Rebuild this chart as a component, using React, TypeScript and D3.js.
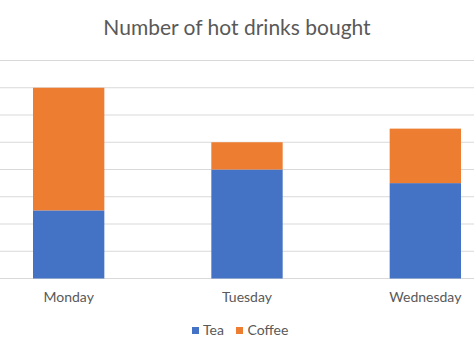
import React from "react";
import * as d3 from "d3";

const days = ["Monday", "Tuesday", "Wednesday"];
const tea = [5, 8, 7];
const coffee = [9, 2, 4];
const seriesNames = ["Tea", "Coffee"];
const seriesColors = ["#4472C4", "#ED7D31"];
const yTicks = [0, 2, 4, 6, 8, 10, 12, 14, 16];

const W = 474;
const H = 355;
const FONT = "Lato, 'Open Sans', sans-serif";

export default function App() {
  const x = d3.scaleBand<string>().domain(days).range([-20.5, 514.5]).paddingInner(0.6).paddingOuter(0.3);
  const y = d3.scaleLinear().domain([0, 16]).range([278.5, 60.5]);

  const rows = days.map((d, i) => ({ day: d, Tea: tea[i], Coffee: coffee[i] }));
  const stacked = d3.stack<any>().keys(seriesNames)(rows);

  return (
    <svg width={W} height={H} style={{ position: "fixed", left: 0, top: 0, background: "#fff" }}>
      <rect x={0} y={0} width={W} height={H} fill="#fff" />
      <text x={237} y={35} textAnchor="middle" fontFamily={FONT} fontSize={21} fill="#595959">
        Number of hot drinks bought
      </text>
      {yTicks.map((t) => (
        <line key={t} x1={0} x2={W} y1={y(t)} y2={y(t)} stroke="#D9D9D9" strokeWidth={1.2} />
      ))}
      {stacked.map((s, si) => (
        <g key={s.key} fill={seriesColors[si]}>
          {s.map((p, i) => (
            <rect
              key={i}
              x={x(days[i])}
              width={x.bandwidth()}
              y={y(p[1])}
              height={y(p[0]) - y(p[1])}
            />
          ))}
        </g>
      ))}
      {days.map((d) => (
        <text
          key={d}
          x={(x(d) as number) + x.bandwidth() / 2}
          y={302}
          textAnchor="middle"
          fontFamily={FONT}
          fontSize={14}
          fill="#595959"
        >
          {d}
        </text>
      ))}
      <g>
        <rect x={192} y={327} width={7} height={7} fill={seriesColors[0]} />
        <text x={203} y={335} fontFamily={FONT} fontSize={14} fill="#595959">
          {seriesNames[0]}
        </text>
        <rect x={236} y={327} width={7} height={7} fill={seriesColors[1]} />
        <text x={247.5} y={335} fontFamily={FONT} fontSize={14} fill="#595959">
          {seriesNames[1]}
        </text>
      </g>
    </svg>
  );
}
